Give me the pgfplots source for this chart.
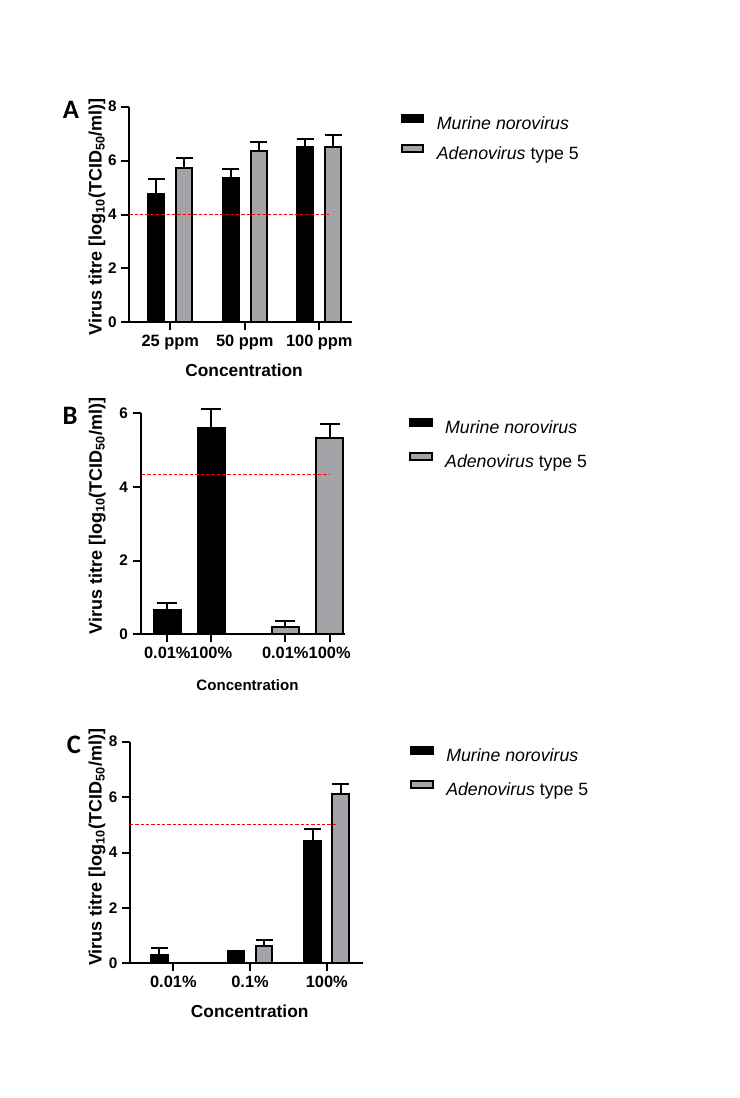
\documentclass[border=0pt]{standalone}
\usepackage{pgfplots}
\pgfplotsset{compat=1.18}
\usepackage{fontspec}
\setmainfont{Liberation Sans}
\newfontfamily\panelfont{Carlito}
\definecolor{adgray}{RGB}{163,163,168}

\pgfplotsset{
  panel/.style={
    scale only axis,
    axis x line*=bottom, axis y line*=left,
    axis line style={line width=1.5pt, -, black},
    tick align=outside,
    major tick length=6pt,
    tick style={line width=1.5pt, black},
    ymin=0,
    clip=false,
    ybar,
    /pgf/number format/assume math mode=true,
    yticklabel style={font=\bfseries\fontsize{11.5}{13}\selectfont},
    xticklabel style={font=\bfseries\fontsize{12.3}{14}\selectfont},
    ylabel={Virus titre [log\textsubscript{10}(TCID\textsubscript{50}/ml)]},
    ylabel style={font=\bfseries\fontsize{13.5}{15}\selectfont, anchor=center},
    xlabel={Concentration},
    xlabel style={font=\bfseries\fontsize{13}{15}\selectfont, anchor=center},
    legend cell align=left,
    legend image code/.code={\draw[#1,line width=1.5pt] (0pt,2.2pt) rectangle (16pt,7pt);},
    legend style={draw=none, fill=none, inner sep=0pt, anchor=west,
      font=\fontsize{13.3}{15}\selectfont, column sep=9.5pt,
      nodes={inner sep=0pt, text height=9.6pt, text depth=2.8pt}},
  },
  mnv/.style={fill=black, draw=black, line width=1.5pt},
  adv/.style={fill=adgray, draw=black, line width=1.5pt},
  errs/.style={error bars/.cd, y dir=plus, y explicit,
    error bar style={line width=1.5pt, black},
    error mark options={rotate=90, line width=1.5pt, black, mark size=#1}},
  cutoff/.style={red, dashed, dash pattern=on 2.5pt off 1.5pt, line width=0.75pt, sharp plot, forget plot},
}

\begin{document}
\begin{tikzpicture}
\path[use as bounding box] (0,0) rectangle (554.25pt,-823.5pt);

% Panel A: hypochlorite concentrations
\begin{axis}[panel,
  at={(96.975pt,-241.725pt)}, anchor=south west,
  width=166.8pt, height=161.7pt,
  xmin=-0.55, xmax=2.435, ymax=8,
  ytick={0,2,4,6,8},
  xtick={0,1,2}, xticklabels={25 ppm,50 ppm,100 ppm},
  bar width=12pt,
  ylabel style={at={(axis description cs:-0.145,0.49)}},
  xlabel style={at={(axis description cs:0.516,-0.221)}},
  legend style={at={(axis description cs:1.220,0.8525)}, row sep=8.6pt},
]
\addplot[mnv, bar shift=-10.5pt, errs=6.5pt] table[x=x, y=y, y error=e] {
x y e
0 4.75 0.57
1 5.34 0.34
2 6.52 0.29
};
\addlegendentry{\textit{Murine norovirus}}
\addplot[adv, bar shift=10.5pt, errs=6.5pt] table[x=x, y=y, y error=e] {
x y e
0 5.71 0.40
1 6.37 0.33
2 6.49 0.46
};
\addlegendentry{\textit{Adenovirus} type 5}
\addplot[cutoff] coordinates {(-0.55,4) (2.134,4)};
\end{axis}

% Panel B
\begin{axis}[panel,
  at={(105.525pt,-475.725pt)}, anchor=south west,
  width=153.2pt, height=165.75pt,
  xmin=-0.607, xmax=4.05, ymax=6,
  ytick={0,2,4,6},
  xtick={0,1,2.69,3.7}, xticklabels={0.01\%,100\%,0.01\%,100\%},
  bar width=20.25pt,
  ylabel style={at={(axis description cs:-0.213,0.536)}},
  xlabel style={at={(axis description cs:0.523,-0.229)}, font=\bfseries\fontsize{11.3}{13}\selectfont},
  legend style={at={(axis description cs:1.313,0.859)}, row sep=11.6pt},
]
\addplot[mnv, bar shift=0pt, errs=7.5pt] table[x=x, y=y, y error=e] {
x y e
0 0.66 0.18
1 5.61 0.50
};
\addlegendentry{\textit{Murine norovirus}}
\addplot[adv, bar shift=0pt, errs=7.5pt] table[x=x, y=y, y error=e] {
x y e
2.69 0.21 0.15
3.7 5.32 0.38
};
\addlegendentry{\textit{Adenovirus} type 5}
\addplot[cutoff] coordinates {(-0.58,4.35) (3.69,4.35)};
\end{axis}

% Panel C
\begin{axis}[panel,
  at={(97.5pt,-722.475pt)}, anchor=south west,
  width=175pt, height=166.2pt,
  xmin=-0.565, xmax=2.477, ymax=8,
  ytick={0,2,4,6,8},
  xtick={0,1,2}, xticklabels={0.01\%,0.1\%,100\%},
  bar width=12.4pt,
  ylabel style={at={(axis description cs:-0.141,0.523)}},
  xlabel style={at={(axis description cs:0.513,-0.218)}},
  legend style={at={(axis description cs:1.200,0.861)}, row sep=11.6pt},
]
\addplot[mnv, bar shift=-10.5pt, errs=6.4pt] table[x=x, y=y, y error=e] {
x y e
0 0.30 0.24
1 0.46 0
2 4.43 0.41
};
\addlegendentry{\textit{Murine norovirus}}
\addplot[adv, bar shift=10.5pt, errs=6.4pt] table[x=x, y=y, y error=e] {
x y e
0 0.02 0
1 0.63 0.21
2 6.10 0.36
};
\addlegendentry{\textit{Adenovirus} type 5}
\addplot[cutoff] coordinates {(-0.565,5.02) (2.12,5.02)};
\end{axis}

% Panel letters
\node[font=\panelfont\bfseries\fontsize{20}{22}\selectfont] at (53.25pt,-82.5pt) {A};
\node[font=\panelfont\bfseries\fontsize{20}{22}\selectfont] at (52.5pt,-312pt) {B};
\node[font=\panelfont\bfseries\fontsize{20}{22}\selectfont] at (55.5pt,-558.4pt) {C};
\end{tikzpicture}
\end{document}
